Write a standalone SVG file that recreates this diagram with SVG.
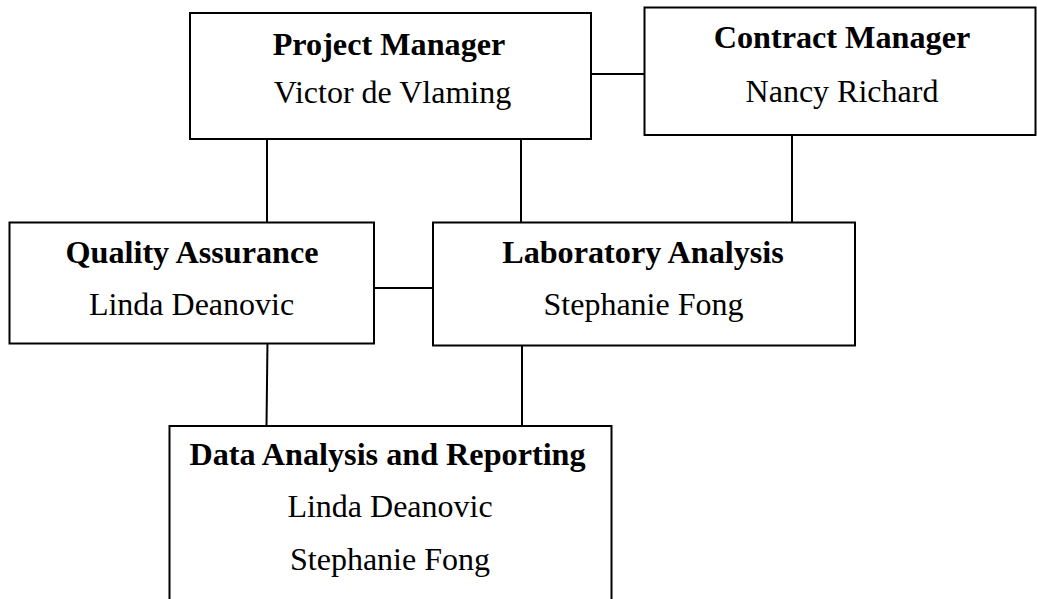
<svg xmlns="http://www.w3.org/2000/svg" width="1037" height="599" viewBox="0 0 1037 599">
<style>
.box{fill:#fff;stroke:#000;stroke-width:2}
.ln{stroke:#000;stroke-width:2;fill:none}
.t{font-family:"Liberation Serif","Times New Roman",serif;font-size:32px;fill:#000;text-anchor:middle}
.b{font-weight:bold;font-size:32.2px}
</style>
<rect width="1037" height="599" fill="#fff"/>
<g id="connectors">
<line class="ln" x1="589" y1="74" x2="645" y2="74"/>
<line class="ln" x1="792" y1="135" x2="792" y2="222"/>
<line class="ln" x1="267" y1="139" x2="267" y2="222"/>
<line class="ln" x1="521" y1="136" x2="521" y2="222"/>
<line class="ln" x1="374" y1="288" x2="433" y2="288"/>
<line class="ln" x1="267.5" y1="340" x2="266.5" y2="426"/>
<line class="ln" x1="522" y1="346" x2="522" y2="426"/>
</g>
<g id="project-manager">
<rect class="box" x="190" y="13" width="401" height="126"/>
<text class="t b" x="389" y="55">Project Manager</text>
<text class="t" x="392.5" y="103">Victor de Vlaming</text>
</g>
<g id="contract-manager">
<rect class="box" x="644.5" y="7.5" width="391" height="127.5"/>
<text class="t b" x="842" y="48">Contract Manager</text>
<text class="t" x="842" y="101.5">Nancy Richard</text>
</g>
<g id="quality-assurance">
<rect class="box" x="9.5" y="222.5" width="364.5" height="121"/>
<text class="t b" x="192" y="263">Quality Assurance</text>
<text class="t" x="191.5" y="315">Linda Deanovic</text>
</g>
<g id="laboratory-analysis">
<rect class="box" x="433" y="222.5" width="422" height="123"/>
<text class="t b" x="643" y="263">Laboratory Analysis</text>
<text class="t" x="643.5" y="315">Stephanie Fong</text>
</g>
<g id="data-analysis">
<rect class="box" x="169.5" y="426" width="442" height="200"/>
<text class="t b" x="387.5" y="465">Data Analysis and Reporting</text>
<text class="t" x="390" y="516.5">Linda Deanovic</text>
<text class="t" x="390" y="570">Stephanie Fong</text>
</g>
</svg>
